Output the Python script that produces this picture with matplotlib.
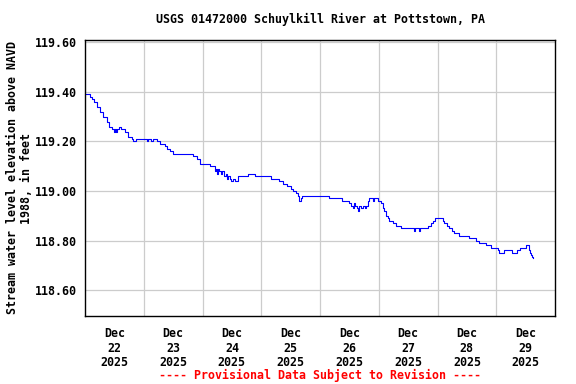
import matplotlib
matplotlib.use("Agg")
import matplotlib.pyplot as plt
import matplotlib.dates as mdates
import pandas as pd
import numpy as np

# hours since 2025-12-22 00:00 and gage height (ft, NAVD 1988)
hours = [0.0, 2.0, 2.9, 3.7, 4.9, 6.1, 7.4, 9.0, 9.8, 11.1, 11.9, 12.3, 12.7, 13.1,
         13.9, 14.7, 16.4, 17.6, 19.3, 19.7, 20.9, 25.0, 25.4, 25.8, 27.0, 27.9,
         29.5, 30.7, 32.8, 33.6, 34.8, 36.0, 44.2, 45.9, 47.1, 51.2, 53.2, 53.7,
         54.1, 54.5, 54.9, 55.7, 56.1, 56.9, 57.8, 58.2, 58.6, 59.4, 59.8, 60.6,
         61.4, 62.3, 62.7, 66.4, 69.5, 75.8, 79.1, 80.7, 82.7, 84.0, 84.8, 86.0,
         87.2, 87.6, 88.1, 88.5, 99.5, 104.9, 107.7, 108.5, 109.4, 109.8, 110.2,
         111.0, 111.4, 111.8, 112.6, 113.5, 114.3, 114.7, 115.5, 115.9, 117.6,
         118.0, 119.6, 120.8, 121.6, 122.1, 122.9, 123.7, 124.1, 125.7, 127.0,
         129.0, 134.3, 134.7, 136.4, 136.8, 140.1, 141.3, 142.1, 143.0, 146.2,
         146.6, 147.9, 148.7, 149.9, 150.7, 152.8, 156.9, 159.7, 161.0, 163.8,
         165.9, 168.8, 169.2, 171.2, 174.5, 176.5, 177.8, 180.2, 181.5, 181.9,
         182.3, 182.7, 183.1]
stage = [119.39, 119.38, 119.37, 119.36, 119.34, 119.32, 119.30, 119.28, 119.26,
         119.25, 119.24, 119.25, 119.24, 119.25, 119.26, 119.25, 119.24, 119.22,
         119.21, 119.20, 119.21, 119.21, 119.20, 119.21, 119.20, 119.21, 119.20,
         119.19, 119.18, 119.17, 119.16, 119.15, 119.14, 119.13, 119.11, 119.10,
         119.08, 119.09, 119.07, 119.09, 119.08, 119.07, 119.08, 119.06, 119.07,
         119.05, 119.06, 119.05, 119.04, 119.05, 119.04, 119.05, 119.06, 119.07,
         119.06, 119.05, 119.04, 119.03, 119.02, 119.01, 119.00, 118.99, 118.98,
         118.96, 118.97, 118.98, 118.97, 118.96, 118.95, 118.94, 118.93, 118.95,
         118.94, 118.93, 118.92, 118.94, 118.93, 118.94, 118.93, 118.94, 118.96,
         118.97, 118.96, 118.97, 118.96, 118.95, 118.93, 118.92, 118.90, 118.89,
         118.88, 118.87, 118.86, 118.85, 118.84, 118.85, 118.84, 118.85, 118.86,
         118.87, 118.88, 118.89, 118.88, 118.87, 118.86, 118.85, 118.84, 118.83,
         118.82, 118.81, 118.80, 118.79, 118.78, 118.77, 118.76, 118.75, 118.76,
         118.75, 118.76, 118.77, 118.78, 118.76, 118.75, 118.74, 118.735, 118.73]

yticks = [118.60, 118.80, 119.00, 119.20, 119.40, 119.60]
start = pd.Timestamp("2025-12-22")
days = pd.date_range(start, periods=9, freq="D")

times = start + pd.to_timedelta(hours, unit="h")

font = "DejaVu Sans Mono"
plt.rcParams['font.family'] = [font]
plt.rcParams['font.weight'] = 'bold'
plt.rcParams['font.size'] = 8.4

fig = plt.figure(figsize=(5.76, 3.84), dpi=100)
ax = fig.add_axes([85/576, 1-316/384, 470/576, 276/384])

ax.plot(times, stage, color='#0000ff', linewidth=0.8, drawstyle='steps-post')

ax.set_xlim(days[0], days[-1])
ax.set_ylim(118.495, 119.61)

ax.set_yticks(yticks)
ax.set_yticklabels(["%.2f" % v for v in yticks])

# grid at midnight, labels at noon
ax.set_xticks(days[1:-1])
ax.set_xticklabels([])
noon = days[:-1] + pd.Timedelta(hours=12)
ax.set_xticks(noon, minor=True)
ax.set_xticklabels([d.strftime("%b\n%d\n%Y") for d in noon], minor=True,
                   linespacing=1.15)
ax.tick_params(axis='both', which='both', length=0)
ax.tick_params(axis='y', pad=6)
ax.tick_params(axis='x', which='minor', pad=8)
ax.grid(True, which='major', color='#cccccc', linewidth=0.9)
for s in ax.spines.values():
    s.set_linewidth(1.0)
    s.set_color('black')

fig.text(320/576, 1-19/384, "USGS 01472000 Schuylkill River at Pottstown, PA",
         ha='center', va='center')
fig.text(20/576, 1-178/384, "Stream water level elevation above NAVD\n1988, in feet",
         rotation=90, ha='center', va='center', multialignment='center',
         linespacing=1.1)
fig.text(320/576, 1-375/384, "---- Provisional Data Subject to Revision ----",
         ha='center', va='center', color='#ff0000')

fig.savefig("out.png", dpi=100)
